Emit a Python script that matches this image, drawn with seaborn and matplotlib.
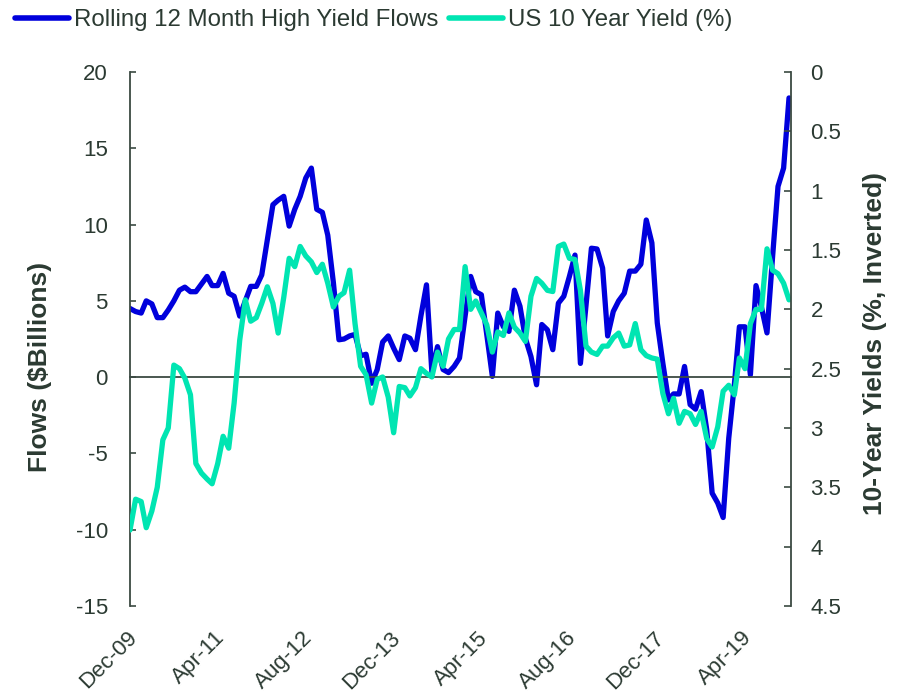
import numpy as np
import pandas as pd
import matplotlib
matplotlib.use("Agg")
import matplotlib.pyplot as plt
import matplotlib.dates as mdates
from matplotlib.lines import Line2D
from matplotlib.transforms import blended_transform_factory
import seaborn as sns

sns.set_style("white")
plt.rcParams["font.family"] = ["Liberation Sans", "DejaVu Sans"]

# ---------------- data ----------------
dates = pd.date_range("2009-12-01", periods=121, freq="MS")

flows = [
    4.5, 4.3, 4.2, 5.0, 4.8, 3.9, 3.9, 4.4, 5.0, 5.7,
    5.9, 5.6, 5.6, 6.1, 6.6, 6.0, 6.0, 6.8, 5.5, 5.3,
    4.0, 5.0, 5.95, 5.95, 6.7, 9.0, 11.3, 11.6, 11.85, 9.9,
    11.0, 11.85, 13.05, 13.7, 11.0, 10.8, 9.3, 6.2, 2.45, 2.5,
    2.7, 2.8, 1.4, 1.5, -0.4, 0.5, 2.3, 2.7, 1.9, 1.15,
    2.7, 2.55, 1.8, 4.0, 6.05, 0.3, 2.0, 0.5, 0.3, 0.7,
    1.25, 4.0, 6.6, 5.6, 5.4, 2.8, 0.05, 4.2, 3.3, 3.0,
    5.7, 4.65, 2.55, 1.35, -0.5, 3.45, 3.1, 1.8, 4.85, 5.3,
    6.6, 8.0, 0.9, 4.7, 8.45, 8.4, 7.15, 2.7, 4.3, 5.0,
    5.5, 6.95, 6.95, 7.4, 10.3, 8.8, 3.55, 0.9, -1.5, -1.1,
    -1.1, 0.7, -1.8, -2.1, -0.95, -3.45, -7.6, -8.25, -9.2, -4.0,
    -0.5, 3.3, 3.3, 0.15, 6.0, 4.6, 2.9, 7.9, 12.5, 13.7,
    18.3,
]

yields = [
    3.86, 3.6, 3.62, 3.84, 3.7, 3.5, 3.1, 3.0, 2.47, 2.5,
    2.58, 2.72, 3.3, 3.38, 3.43, 3.47, 3.3, 3.07, 3.17, 2.79,
    2.26, 1.92, 2.1, 2.07, 1.95, 1.81, 1.95, 2.2, 1.9, 1.57,
    1.64, 1.47, 1.55, 1.6, 1.69, 1.62, 1.78, 1.98, 1.89, 1.86,
    1.67, 2.12, 2.48, 2.55, 2.79, 2.59, 2.57, 2.74, 3.04, 2.65,
    2.66, 2.73, 2.66, 2.5, 2.54, 2.57, 2.36, 2.48, 2.25, 2.17,
    2.17, 1.64, 2.0, 1.93, 2.03, 2.13, 2.36, 2.19, 2.22, 2.03,
    2.15, 2.2, 2.27, 1.89, 1.74, 1.78, 1.84, 1.85, 1.47, 1.45,
    1.57, 1.58, 1.84, 2.31, 2.36, 2.38, 2.31, 2.31, 2.24, 2.2,
    2.31, 2.3, 2.12, 2.34, 2.39, 2.41, 2.42, 2.71, 2.88, 2.75,
    2.96, 2.86, 2.88, 2.97, 2.86, 3.09, 3.16, 2.99, 2.69, 2.64,
    2.72, 2.41, 2.5, 2.12, 2.0, 2.0, 1.49, 1.67, 1.7, 1.78,
    1.92,
]

tick_index = [0, 16, 32, 48, 64, 80, 96, 112]
tick_labels = ["Dec-09", "Apr-11", "Aug-12", "Dec-13", "Apr-15", "Aug-16", "Dec-17", "Apr-19"]
flow_ticks = [-15, -10, -5, 0, 5, 10, 15, 20]
yield_ticks = [0, 0.5, 1, 1.5, 2, 2.5, 3, 3.5, 4, 4.5]
yield_tick_labels = ["0", "0.5", "1", "1.5", "2", "2.5", "3", "3.5", "4", "4.5"]

series_names = ["Rolling 12 Month High Yield Flows", "US 10 Year Yield (%)"]

# ---------------- style ----------------
BLUE = "#0000DC"
TEAL = "#00E5B2"
AXC = "#3B4A42"
TXT = "#2B3A32"

W, H = 897, 694
fig = plt.figure(figsize=(W / 100, H / 100), dpi=100)
ax = fig.add_axes([130 / W, 88 / H, 661 / W, 534 / H])
ax2 = ax.twinx()

df = pd.DataFrame({"date": dates, "flows": flows, "yield": yields})

sns.lineplot(data=df, x="date", y="flows", ax=ax, color=BLUE, lw=3.8,
             solid_joinstyle="round", legend=False)
sns.lineplot(data=df, x="date", y="yield", ax=ax2, color=TEAL, lw=3.8,
             solid_joinstyle="round", legend=False)

ax.set_xlim(dates[0], dates[-1] + pd.Timedelta(days=11))
ax.set_ylim(-15, 20)
ax.set_yticks(flow_ticks)
ax.set_yticklabels([str(v) for v in flow_ticks])
ax2.set_ylim(4.5, 0)
ax2.set_yticks(yield_ticks)
ax2.set_yticklabels(yield_tick_labels)

# spines
for s in ["top", "right"]:
    ax.spines[s].set_visible(False)
ax.spines["bottom"].set_position(("data", 0))
for s in ["top", "left", "bottom"]:
    ax2.spines[s].set_visible(False)
for sp in [ax.spines["left"], ax.spines["bottom"], ax2.spines["right"]]:
    sp.set_color(AXC)
    sp.set_linewidth(1.3)

tick_dates = [dates[i] for i in tick_index]
ax.set_xticks(tick_dates)
ax.tick_params(axis="x", direction="out", length=4, width=1.2, color=AXC,
               labelbottom=False)
ax.tick_params(axis="y", direction="in", length=4.5, width=1.2, color=AXC,
               labelsize=16, labelcolor=TXT, pad=16)
ax2.tick_params(axis="y", direction="in", length=5, width=1.2, color=AXC,
                labelsize=16, labelcolor=TXT, pad=14)

# x labels at the bottom of the plot area
trans = blended_transform_factory(ax.transData, ax.transAxes)
for d, lab in zip(tick_dates, tick_labels):
    ax.text(mdates.date2num(d) + 20, -0.054, lab, transform=trans, rotation=45,
            ha="right", va="center", rotation_mode="anchor", fontsize=16,
            color=TXT)

ax.set_xlabel("")
ax.set_ylabel("Flows ($Billions)", fontsize=19, fontweight="bold", color=TXT,
              va="center")
ax.yaxis.set_label_coords(-0.136, 0.448)
ax2.set_ylabel("10-Year Yields (%, Inverted)", fontsize=19, fontweight="bold",
               color=TXT, va="center", rotation=90)
ax2.yaxis.set_label_coords(1.127, 0.4925)

handles = [Line2D([], [], color=BLUE, lw=4.0), Line2D([], [], color=TEAL, lw=4.0)]
fig.legend(handles, series_names, loc="center left",
           bbox_to_anchor=(15 / W, 1 - 20 / H), ncol=2, frameon=False,
           fontsize=17.3, handlelength=2.25, handletextpad=0.2, columnspacing=0.45,
           borderpad=0, borderaxespad=0, labelcolor=TXT)

fig.savefig("out.png", dpi=100)
